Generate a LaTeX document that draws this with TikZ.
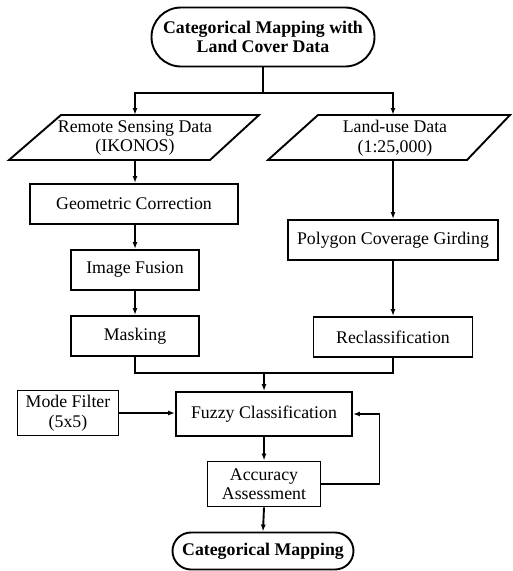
\documentclass[tikz,border=0pt]{standalone}
\usepackage{fontspec}
\setmainfont{Liberation Serif}
\usetikzlibrary{arrows.meta,calc,shapes.misc}
\newcommand\myfs{\fontsize{17.8}{19.5}\selectfont}
\begin{document}
\begin{tikzpicture}[x=1pt,y=-1pt, line width=1.9pt,
  box/.style={draw, line width=1.9pt, inner sep=0pt, align=center, font=\myfs},
  term/.style={draw, rounded rectangle, line width=1.9pt, inner sep=0pt, align=center, font=\myfs\bfseries},
  txt/.style={inner sep=0pt, align=center, font=\myfs},
  arr/.style={-{Latex[length=7pt,width=5pt]}}]
\useasboundingbox (0,0) rectangle (513,571);

% nodes
\node[term, minimum width=223pt, minimum height=59pt] (top) at (263,37) {Categorical Mapping with\\Land Cover Data};

\node[txt] (rs) at (135,138) {Remote Sensing Data\\(IKONOS)};
\draw (61,115) -- (259,115) -- (210,160) -- (9,160) -- cycle;
\node[txt] (lu) at (395,138) {Land-use Data\\(1:25,000)};
\draw (318,115) -- (510,115) -- (467,160) -- (268,160) -- cycle;
\coordinate (rsT) at (135,115);
\coordinate (rsB) at (135,160);
\coordinate (luT) at (393,115);
\coordinate (luB) at (393,160);

\node[box, minimum width=208pt, minimum height=40pt] (geo) at (134,204) {Geometric Correction};
\node[box, minimum width=128pt, minimum height=40pt] (fus) at (135,270) {Image Fusion};
\node[box, minimum width=128pt, minimum height=40pt] (mask) at (135,336) {Masking};
\node[box, minimum width=210pt, minimum height=40pt] (poly) at (393,240) {Polygon Coverage Girding};
\node[box, minimum width=159pt, minimum height=40pt] (recl) at (393,337) {Reclassification};

\node[box, minimum width=176pt, minimum height=44pt] (fuzzy) at (264,414) {Fuzzy Classification};
\node[box, minimum width=101pt, minimum height=45pt] (mode) at (68,413) {Mode Filter\\(5x5)};
\node[box, minimum width=113pt, minimum height=45pt] (acc) at (264,484) {Accuracy\\Assessment};
\node[term, minimum width=181pt, minimum height=37pt] (cm) at (263,551) {Categorical Mapping};

% connectors
\coordinate (split) at (263,93);
\coordinate (merge) at (264,373);
\draw (top.south) -- (split);
\draw[arr] (split) -| (rsT);
\draw[arr] (split) -| (luT);
\draw[arr] (rsB) -- (rsB |- geo.north);
\draw[arr] (geo.south -| fus.north) -- (fus.north);
\draw[arr] (fus.south) -- (mask.north);
\draw[arr] (luB) -- (luB |- poly.north);
\draw[arr] (poly.south) -- (recl.north);
\draw (mask.south) |- (merge) -| (recl.south);
\draw[arr] (merge) -- (fuzzy.north);
\draw[arr] (mode.east) -- (mode.east -| fuzzy.west);
\draw[arr] (fuzzy.south) -- (acc.north);
\draw[arr] (acc.east) -- ++(58,0) |- (fuzzy.east);
\draw[arr] (acc.south) -- (cm.north);
\end{tikzpicture}
\end{document}
